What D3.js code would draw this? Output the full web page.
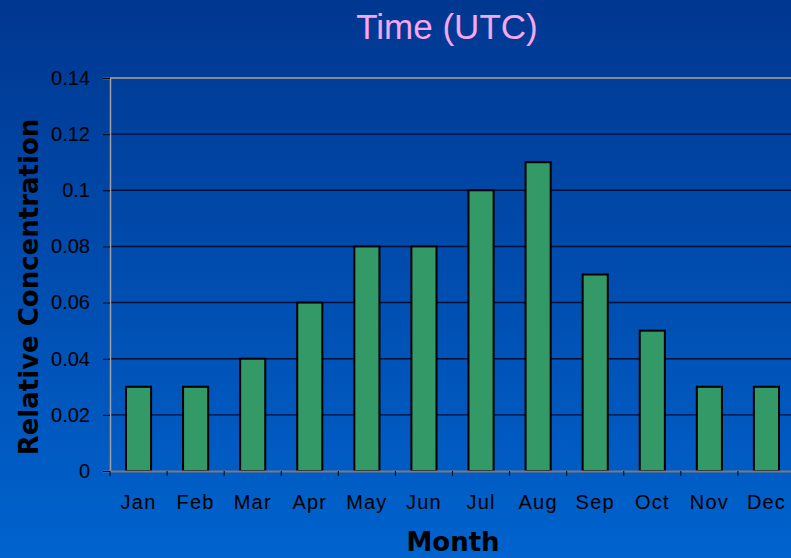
<!DOCTYPE html>
<html>
<head>
<meta charset="utf-8">
<script src="https://cdn.jsdelivr.net/npm/d3@7"></script>
<style>
  body { margin: 0; overflow: hidden; }
  text { font-family: "Liberation Sans", Arial, sans-serif; }
</style>
</head>
<body>
<svg id="chart"></svg>
<script>
// Chart data
const months = ["Jan", "Feb", "Mar", "Apr", "May", "Jun", "Jul", "Aug", "Sep", "Oct", "Nov", "Dec"];
const concentration = [0.03, 0.03, 0.04, 0.06, 0.08, 0.08, 0.1, 0.11, 0.07, 0.05, 0.03, 0.03];
const yTicks = [0, 0.02, 0.04, 0.06, 0.08, 0.1, 0.12, 0.14];

const W = 791, H = 558;
const margin = { top: 78, right: -4, bottom: 87, left: 110 };
const width = W - margin.left - margin.right;
const height = H - margin.top - margin.bottom;

const root = d3.select("#chart").attr("width", W).attr("height", H);

// Background gradient
const defs = root.append("defs");
const grad = defs.append("linearGradient").attr("id", "bg")
  .attr("x1", 0).attr("y1", 0).attr("x2", 0).attr("y2", 1);
grad.append("stop").attr("offset", "0%").attr("stop-color", "#003790");
grad.append("stop").attr("offset", "100%").attr("stop-color", "#0063ce");
root.append("rect").attr("width", W).attr("height", H).attr("fill", "url(#bg)");

const svg = root.append("g").attr("transform", `translate(${margin.left},${margin.top})`);

const x = d3.scaleBand().domain(months).range([0, width]).paddingInner(0.56).paddingOuter(0.28);
const xOuter = d3.scaleBand().domain(months).range([0, width]);
const y = d3.scaleLinear().domain([0, 0.14]).range([height, 0]);

// Gridlines
svg.append("g")
  .selectAll("line")
  .data(yTicks.slice(1, -1))
  .join("line")
  .attr("x1", 0).attr("x2", width)
  .attr("y1", d => y(d)).attr("y2", d => y(d))
  .attr("stroke", "#000c38").attr("stroke-width", 1.4);

// Top border of plot area
svg.append("line")
  .attr("x1", 0).attr("x2", width)
  .attr("y1", y(0.14)).attr("y2", y(0.14))
  .attr("stroke", "#8a8a8a").attr("stroke-width", 2);

// Bars
svg.selectAll(".bar")
  .data(months)
  .join("rect")
  .attr("class", "bar")
  .attr("x", d => x(d))
  .attr("y", (d, i) => y(concentration[i]))
  .attr("width", x.bandwidth())
  .attr("height", (d, i) => height - y(concentration[i]))
  .attr("fill", "#339966")
  .attr("stroke", "#000000")
  .attr("stroke-width", 2);

// Y axis
const yAxis = svg.append("g")
  .call(d3.axisLeft(y).tickValues(yTicks).tickSize(7).tickPadding(13)
    .tickFormat(d => d === 0 ? "0" : String(+d.toFixed(2))));
yAxis.select(".domain").attr("stroke", "#a0a0a0").attr("stroke-width", 1.5);
yAxis.selectAll(".tick line").attr("stroke", "#000");
yAxis.selectAll("text").attr("fill", "#000").style("font-size", "20px");

// X axis
const xAxis = svg.append("g")
  .attr("transform", `translate(0,${height})`)
  .call(d3.axisBottom(xOuter).tickSize(0).tickPadding(24));
xAxis.select(".domain").attr("stroke", "#7a7a7a").attr("stroke-width", 2);
xAxis.selectAll("text").attr("fill", "#000").style("font-size", "20px").style("letter-spacing", "1.2px");
xAxis.selectAll(".sep")
  .data(months)
  .join("line")
  .attr("class", "sep")
  .attr("x1", d => xOuter(d)).attr("x2", d => xOuter(d))
  .attr("y1", 0).attr("y2", 5)
  .attr("stroke", "#000");

// Title
root.append("text")
  .attr("x", 447).attr("y", 39)
  .attr("text-anchor", "middle")
  .attr("fill", "#f7a6f2")
  .style("font-size", "35px")
  .text("Time (UTC)");

// Axis titles
root.append("text")
  .attr("x", 453).attr("y", 551)
  .attr("text-anchor", "middle")
  .attr("fill", "#000")
  .style("font-family", "'DejaVu Sans', Verdana, sans-serif")
  .style("font-size", "26px").style("font-weight", "bold")
  .text("Month");

root.append("text")
  .attr("transform", "translate(38,287) rotate(-90)")
  .attr("text-anchor", "middle")
  .attr("fill", "#000")
  .style("font-family", "'DejaVu Sans', Verdana, sans-serif")
  .style("font-size", "26px").style("font-weight", "bold")
  .text("Relative Concentration");
</script>
</body>
</html>
